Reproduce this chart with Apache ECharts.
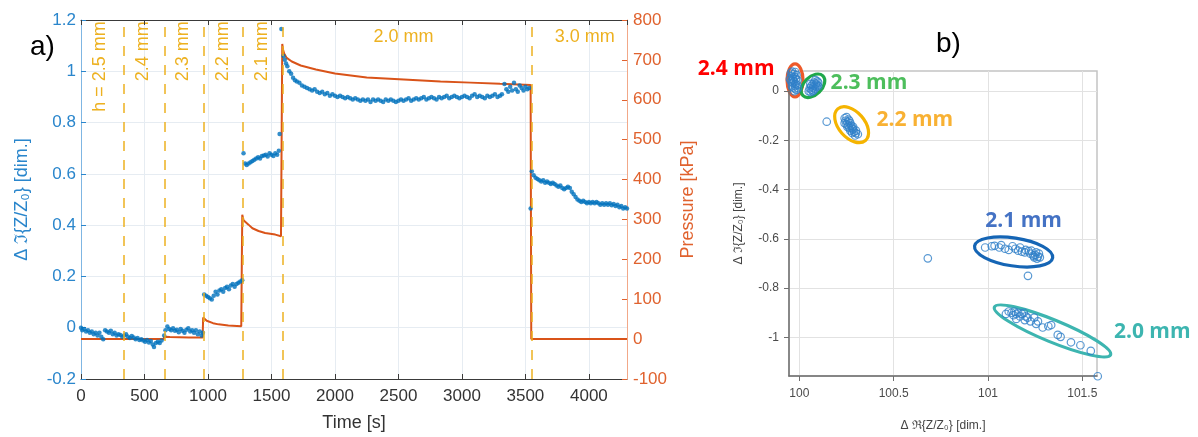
<!DOCTYPE html>
<html><head><meta charset="utf-8">
<script src="https://cdn.jsdelivr.net/npm/echarts@6/dist/echarts.min.js"></script>
<style>html,body{margin:0;padding:0;background:#fff}#c{width:1198px;height:437px}</style>
</head><body><div id="c"></div>
<script>
// ---------- left chart data ----------
const segA = [[0,0.0],[10,-0.01],[25,-0.005],[40,-0.015],[55,-0.01],[70,-0.02],[85,-0.015],[100,-0.025],[115,-0.02],[130,-0.03],[145,-0.02],[160,-0.035],[175,-0.045],[190,-0.01],[205,-0.015],[220,-0.02],[235,-0.012],[250,-0.025],[265,-0.02],[280,-0.03],[295,-0.025],[310,-0.028],[325,-0.035],[340,-0.03],[355,-0.025],[370,-0.035],[385,-0.04],[400,-0.032],[415,-0.038],[430,-0.045],[445,-0.04],[460,-0.048],[475,-0.045],[490,-0.05],[505,-0.055],[520,-0.048],[535,-0.058],[550,-0.052],[565,-0.065],[575,-0.075],[590,-0.06],[605,-0.055],[620,-0.06],[635,-0.05]];
const segB = [[655,-0.03],[665,-0.01],[680,0.005],[695,-0.005],[710,-0.01],[725,-0.002],[740,-0.012],[755,-0.008],[770,-0.018],[785,-0.005],[800,-0.012],[815,-0.02],[830,-0.008],[845,-0.002],[860,-0.015],[875,-0.01],[890,-0.02],[905,-0.01],[920,-0.025],[935,-0.015],[950,-0.03],[960,-0.02]];
const segC = [[970,0.13],[985,0.125],[1000,0.12],[1015,0.115],[1030,0.11],[1045,0.125],[1060,0.14],[1075,0.13],[1090,0.145],[1105,0.15],[1120,0.14],[1135,0.155],[1150,0.16],[1165,0.15],[1180,0.165],[1195,0.17],[1210,0.16],[1225,0.17],[1240,0.175],[1255,0.18],[1270,0.185]];
const segD = [[1280,0.68],[1292,0.64],[1305,0.635],[1320,0.64],[1335,0.645],[1350,0.65],[1365,0.655],[1380,0.66],[1395,0.665],[1410,0.66],[1425,0.67],[1440,0.672],[1455,0.675],[1470,0.668],[1485,0.68],[1500,0.675],[1515,0.67],[1530,0.68],[1545,0.675],[1558,0.69],[1564,0.755],[1578,1.165]];
const segE = [[1595,1.06],[1605,1.045],[1615,1.03],[1625,1.02],[1640,1.0],[1655,0.99],[1670,0.975],[1685,0.965],[1700,0.96],[1720,0.955],[1740,0.945],[1760,0.94],[1780,0.935],[1800,0.93],[1820,0.925],[1840,0.93],[1860,0.92],[1880,0.915],[1900,0.92],[1920,0.91],[1940,0.915],[1960,0.905],[1980,0.91],[2000,0.905],[2020,0.9],[2040,0.905],[2060,0.9],[2080,0.895],[2100,0.9],[2120,0.895],[2140,0.89],[2160,0.895],[2180,0.89],[2200,0.885],[2220,0.89],[2240,0.885],[2260,0.89],[2280,0.88],[2300,0.89],[2320,0.885],[2340,0.89],[2360,0.885],[2380,0.88],[2400,0.89],[2420,0.885],[2440,0.89],[2460,0.885],[2480,0.88],[2500,0.885],[2520,0.89],[2540,0.885],[2560,0.89],[2580,0.895],[2600,0.885],[2620,0.89],[2640,0.895],[2660,0.89],[2680,0.895],[2700,0.9],[2720,0.89],[2740,0.895],[2760,0.9],[2780,0.895],[2800,0.89],[2820,0.9],[2840,0.895],[2860,0.9],[2880,0.905],[2900,0.895],[2920,0.9],[2940,0.905],[2960,0.9],[2980,0.895],[3000,0.9],[3020,0.905],[3040,0.9],[3060,0.895],[3080,0.905],[3100,0.91],[3120,0.9],[3140,0.905],[3160,0.9],[3180,0.895],[3200,0.905],[3220,0.9],[3240,0.905],[3260,0.91],[3280,0.9],[3300,0.905],[3315,0.91],[3335,0.95],[3350,0.93],[3365,0.92],[3380,0.94],[3395,0.925],[3410,0.955],[3425,0.93],[3440,0.92],[3455,0.945],[3470,0.935],[3485,0.925],[3500,0.94],[3515,0.93],[3530,0.935]];
const segF = [[3541,0.465],[3550,0.61],[3565,0.595],[3580,0.585],[3595,0.58],[3610,0.575],[3625,0.57],[3640,0.575],[3655,0.565],[3670,0.57],[3685,0.565],[3700,0.56],[3715,0.565],[3730,0.56],[3745,0.555],[3760,0.55],[3775,0.555],[3790,0.545],[3805,0.54],[3820,0.545],[3835,0.55],[3850,0.545],[3865,0.53],[3880,0.52],[3895,0.51],[3910,0.5],[3925,0.495],[3940,0.49],[3955,0.495],[3970,0.49],[3985,0.485],[4000,0.49],[4015,0.485],[4030,0.49],[4045,0.485],[4060,0.49],[4075,0.485],[4090,0.48],[4105,0.485],[4120,0.48],[4135,0.485],[4150,0.48],[4165,0.485],[4180,0.478],[4195,0.482],[4210,0.475],[4225,0.48],[4240,0.47],[4255,0.475],[4270,0.465],[4285,0.47],[4300,0.465]];
const pressure = [[0,0],[650,0],[657,6],[700,5],[850,4],[958,4],[962,54],[990,46],[1040,40],[1083,37],[1160,34],[1262,32],[1270,312],[1280,298],[1319,287],[1350,278],[1398,271],[1450,266],[1530,262],[1575,258],[1585,740],[1592,725],[1600,716],[1620,705],[1660,696],[1730,686],[1850,676],[2000,666],[2250,656],[2542,651],[2831,646],[3068,643],[3300,640],[3541,637],[3546,0],[4300,0]];
const hLines = [339, 657, 970, 1275, 1588, 3549];
const hLabels = ['h = 2.5 mm','2.4 mm','2.3 mm','2.2 mm','2.1 mm','2.0 mm','3.0 mm'];
const hLabelT = [150, 490, 805, 1120, 1427, 2540, 3967];
const hLabelRotated = [true,true,true,true,true,false,false];

// ---------- right chart data ----------
const c24 = [[99.955,0.075],[99.962,0.08],[99.97,0.07],[99.978,0.078],[99.985,0.065],[99.958,0.06],[99.966,0.055],[99.975,0.058],[99.982,0.05],[99.99,0.045],[99.955,0.04],[99.963,0.035],[99.972,0.04],[99.98,0.03],[99.988,0.025],[99.96,0.02],[99.968,0.015],[99.976,0.01],[99.984,0.005],[99.972,0.0],[99.992,0.012],[99.95,0.05],[99.965,0.045],[99.978,0.022]];
const c23 = [[100.085,0.045],[100.095,0.04],[100.1,0.035],[100.078,0.035],[100.088,0.03],[100.095,0.025],[100.07,0.028],[100.08,0.022],[100.09,0.018],[100.062,0.02],[100.072,0.015],[100.082,0.01],[100.055,0.012],[100.065,0.006],[100.075,0.003],[100.05,0.0],[100.06,-0.004],[100.07,0.0],[100.1,0.02],[100.058,0.03]];
const c22 = [[100.24,-0.11],[100.25,-0.105],[100.26,-0.115],[100.245,-0.12],[100.255,-0.125],[100.265,-0.12],[100.27,-0.13],[100.25,-0.135],[100.26,-0.14],[100.275,-0.14],[100.28,-0.15],[100.265,-0.15],[100.285,-0.155],[100.27,-0.16],[100.29,-0.165],[100.28,-0.17],[100.3,-0.17],[100.295,-0.18],[100.31,-0.175],[100.285,-0.145],[100.3,-0.16],[100.24,-0.13],[100.255,-0.145]];
const c21 = [[100.985,-0.635],[101.02,-0.63],[101.035,-0.628],[101.06,-0.635],[101.07,-0.625],[101.09,-0.64],[101.11,-0.645],[101.13,-0.63],[101.145,-0.64],[101.16,-0.648],[101.17,-0.635],[101.18,-0.652],[101.195,-0.655],[101.2,-0.645],[101.215,-0.65],[101.225,-0.66],[101.23,-0.648],[101.24,-0.668],[101.25,-0.665],[101.255,-0.655],[101.265,-0.672],[101.27,-0.66],[101.275,-0.675],[101.26,-0.68],[101.245,-0.675]];
const c20 = [[101.095,-0.905],[101.11,-0.895],[101.125,-0.9],[101.135,-0.91],[101.14,-0.895],[101.15,-0.905],[101.16,-0.9],[101.17,-0.915],[101.18,-0.905],[101.19,-0.9],[101.2,-0.915],[101.15,-0.925],[101.195,-0.93],[101.21,-0.92],[101.225,-0.935],[101.245,-0.92],[101.255,-0.945],[101.265,-0.935],[101.29,-0.96],[101.32,-0.955],[101.335,-0.95],[101.37,-0.99],[101.385,-0.998],[101.44,-1.02],[101.49,-1.032],[101.545,-1.055]];
const outliers = [[100.145,-0.124],[101.212,-0.75],[100.681,-0.679],[101.582,-1.158]];
const rightXTicks = [100, 100.5, 101, 101.5];
const rightYTicks = [-1, -0.8, -0.6, -0.4, -0.2, 0];
const clusterNames = ['2.4 mm','2.3 mm','2.2 mm','2.1 mm','2.0 mm'];
const ellipseCenters = [[99.977,0.044],[100.072,0.022],[100.277,-0.136],[101.136,-0.653],[101.342,-0.974]];
const labelAnchors = [[99.665,0.089],[100.369,0.032],[100.612,-0.117],[101.189,-0.528],[101.871,-0.98]];
const ellipseColors = ['#EE5A2A','#1FA84B','#F5B400','#1565B5','#3DB5B0'];
const labelColors = ['#FF0000','#4DBE5C','#F8B133','#4472C4','#3DB5B0'];
// ellipse shape styles (pixels / radians)
const ellipseRx = [8, 14, 21, 39.5, 62.8];
const ellipseRy = [16.5, 9, 13, 14, 11];
const ellipseRot = [0, 0.78, -0.85, -0.15, -0.39];

const BLUE = '#2a86cc', ORANGE = '#e0622e';
const chart = echarts.init(document.getElementById('c'));
const ff = 'Liberation Sans';
const emptyDot = {color:'rgba(0,0,0,0)', borderColor:'#2f7fc8', borderWidth:1.2};
function rs(d){return {type:'scatter', xAxisIndex:2, yAxisIndex:2, data:d, symbol:'circle', symbolSize:7.5, itemStyle:emptyDot, clip:false, z:3};}
const plain = v => String(v);

chart.setOption({
  animation:false,
  textStyle:{fontFamily:ff},
  grid:[
    {left:81, top:20, width:546, height:360, show:false},
    {left:789, top:71, width:308, height:307, show:true, borderColor:'#c4c4c4', borderWidth:1.5}
  ],
  xAxis:[
    {gridIndex:0, type:'value', min:0, max:4300, interval:500, position:'bottom',
     axisLine:{onZero:false, lineStyle:{color:'#3a3a3a'}}, axisTick:{inside:true, length:5, lineStyle:{color:'#3a3a3a'}},
     axisLabel:{color:'#333', fontSize:17, margin:9, showMaxLabel:false, formatter:plain},
     splitLine:{show:true, lineStyle:{color:'#e6ecf2'}},
     name:'Time [s]', nameLocation:'middle', nameGap:35, nameTextStyle:{fontSize:18, color:'#333'}},
    {gridIndex:0, type:'value', min:0, max:4300, interval:500, position:'top',
     axisLine:{onZero:false, lineStyle:{color:'#3a3a3a'}}, axisTick:{inside:true, length:5, lineStyle:{color:'#3a3a3a'}},
     axisLabel:{show:false}, splitLine:{show:false}},
    {gridIndex:1, type:'value', min:99.945, max:101.578, minInterval:0.5, maxInterval:0.5,
     axisLine:{onZero:false, lineStyle:{color:'#6f6f6f', width:1.5}},
     axisTick:{length:5, customValues:rightXTicks, lineStyle:{color:'#6f6f6f'}},
     axisLabel:{color:'#4a4a4a', fontSize:12, margin:12, customValues:rightXTicks, formatter:plain},
     splitLine:{show:true, lineStyle:{color:'#e2e2e2'}},
     name:'Δ ℜ{Z/Z₀} [dim.]', nameLocation:'middle', nameGap:44, nameTextStyle:{fontSize:12, color:'#444'}}
  ],
  yAxis:[
    {gridIndex:0, type:'value', min:-0.2, max:1.2, interval:0.2, position:'left',
     axisLine:{show:true, onZero:false, lineStyle:{color:'#7fb6e3'}}, axisTick:{show:true, inside:true, length:5, lineStyle:{color:BLUE}},
     axisLabel:{color:BLUE, fontSize:17, margin:5},
     splitLine:{show:true, lineStyle:{color:'#e6ecf2'}},
     name:'Δ ℑ{Z/Z₀} [dim.]', nameLocation:'middle', nameRotate:90, nameGap:50, nameTextStyle:{fontSize:18, color:BLUE}},
    {gridIndex:0, type:'value', min:-100, max:800, interval:100, position:'right',
     axisLine:{show:true, onZero:false, lineStyle:{color:'#f2a888'}}, axisTick:{show:true, inside:true, length:5, lineStyle:{color:ORANGE}},
     axisLabel:{color:ORANGE, fontSize:17, margin:6},
     splitLine:{show:false},
     name:'Pressure [kPa]', nameLocation:'middle', nameRotate:90, nameGap:52, nameTextStyle:{fontSize:18, color:ORANGE}},
    {gridIndex:1, type:'value', min:-1.157, max:0.082, minInterval:0.2, maxInterval:0.2,
     axisLine:{show:true, onZero:false, lineStyle:{color:'#6f6f6f', width:1.5}},
     axisTick:{show:true, length:5, customValues:rightYTicks, lineStyle:{color:'#6f6f6f'}},
     axisLabel:{color:'#4a4a4a', fontSize:12, margin:10, customValues:rightYTicks},
     splitLine:{show:true, lineStyle:{color:'#e2e2e2'}},
     name:'Δ ℑ{Z/Z₀} [dim.]', nameLocation:'middle', nameRotate:90, nameGap:44, nameTextStyle:{fontSize:12, color:'#444'}}
  ],
  series:[
    {type:'line', xAxisIndex:0, yAxisIndex:1, data:pressure, showSymbol:false, lineStyle:{color:'#D95319', width:2}, z:3,
     markLine:{silent:true, symbol:['none','none'], label:{show:false}, animation:false,
       lineStyle:{color:'#EDB120', type:[10,9], width:1.5}, data:hLines.map(v=>({xAxis:v}))}},
    {type:'scatter', xAxisIndex:0, yAxisIndex:0, data:[].concat(segA,segB,segC,segD,segE,segF), symbolSize:4.5, itemStyle:{color:'#0072BD'}, z:4},
    rs(c24), rs(c23), rs(c22), rs(c21), rs(c20), rs(outliers)
  ]
});

const g = [];
g.push({type:'text', x:30, y:33, style:{text:'a)', font:'28px "Liberation Sans"', fill:'#000'}});
g.push({type:'text', x:936, y:30, style:{text:'b)', font:'28px "Liberation Sans"', fill:'#000'}});
hLabels.forEach((t,i)=>{
  if (hLabelRotated[i]) {
    const p = chart.convertToPixel({xAxisIndex:0, yAxisIndex:0}, [hLabelT[i], 1.195]);
    g.push({type:'text', x:p[0], y:p[1], rotation:Math.PI/2,
      style:{text:t, font:'18px "Liberation Sans"', fill:'#EDB120', align:'right', verticalAlign:'middle'}});
  } else {
    const p = chart.convertToPixel({xAxisIndex:0, yAxisIndex:0}, [hLabelT[i], 1.133]);
    g.push({type:'text', x:p[0], y:p[1],
      style:{text:t, font:'18px "Liberation Sans"', fill:'#EDB120', align:'center', verticalAlign:'middle'}});
  }
});
clusterNames.forEach((n,i)=>{
  const c = chart.convertToPixel({xAxisIndex:2, yAxisIndex:2}, ellipseCenters[i]);
  g.push({type:'group', x:c[0], y:c[1], rotation:ellipseRot[i], z:10, children:[
    {type:'ellipse', shape:{cx:0, cy:0, rx:ellipseRx[i], ry:ellipseRy[i]}, style:{fill:'none', stroke:ellipseColors[i], lineWidth:3.2}}
  ]});
  const l = chart.convertToPixel({xAxisIndex:2, yAxisIndex:2}, labelAnchors[i]);
  g.push({type:'text', x:l[0], y:l[1], z:10, style:{text:n, font:'bold 21px "Open Sans"', fill:labelColors[i], align:'center', verticalAlign:'middle'}});
});
chart.setOption({graphic:g});
</script></body></html>
